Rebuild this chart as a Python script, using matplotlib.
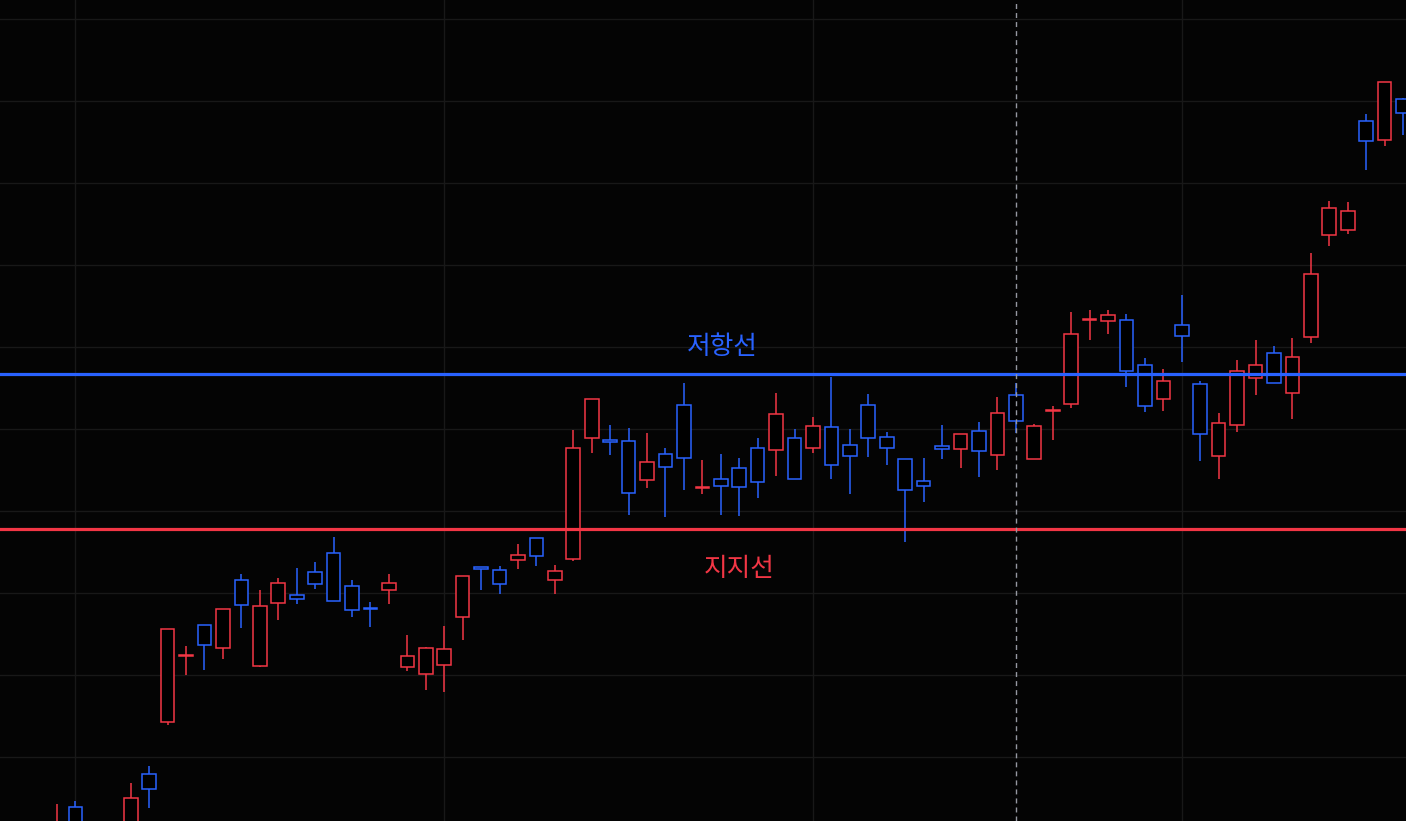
import matplotlib
matplotlib.use("Agg")
import matplotlib.pyplot as plt
from matplotlib.patches import Rectangle

plt.rcParams['font.family'] = ['Noto Sans CJK KR', 'DejaVu Sans']

# OHLC per bar (price units), bar 0 is the left-most partly visible candle
opens = [-30, 14, -40, -10, -15, 47, 99, 165.5, 196, 173,
         241, 155, 218, 226, 249, 268, 235, 213, 231.5, 154,
         147, 156, 204, 254, 251, 261, 283, 241, 262, 383,
         381, 380, 341, 367, 416, 333.5, 342, 353, 373, 371,
         383, 373, 394, 376, 416, 384, 362, 340, 375, 372,
         390, 366, 426, 362, 410.5, 417, 501.5, 500, 501, 456,
         422, 496, 437, 365, 396, 443, 468, 428, 484, 586,
         591, 700, 681, 722]
highs = [17, 20, -5, -3, 38, 55, 192, 175, 196, 212,
         247, 231, 243, 253, 259, 284, 241, 219, 247, 186,
         174, 195, 245, 254, 255, 277, 283, 256, 391, 422,
         396, 393, 388, 373, 438, 361, 367, 363, 383, 428,
         392, 404, 444, 392, 427, 389, 362, 363, 396, 387,
         399, 424, 438, 397, 415, 509, 511, 511, 507, 463,
         452, 526, 440, 408, 461, 481, 475, 483, 568, 620,
         619, 707, 739, 723]
lows = [-40, -30, -45, -45, -20, 13, 96, 146, 151, 162,
        193, 154, 201, 217, 232, 220, 204, 194, 217, 150,
        131, 129, 181, 231, 227, 252, 255, 227, 260, 368,
        366, 306, 333, 304, 331, 327, 306, 305, 323, 345,
        342, 368, 342, 327, 364, 356, 279, 319, 362, 353,
        344, 351, 388, 362, 381, 413, 481, 487, 434, 409,
        410, 459, 360, 342, 389, 426, 438, 402, 478, 575,
        587, 651, 675, 686]
closes = [-4, -20, -15, -35, 23, 32, 192, 166, 176, 212,
          216, 215, 238, 222, 237, 220, 211, 212, 238, 165,
          173, 172, 245, 252, 237, 266, 265, 250, 373, 422,
          379, 328, 359, 354, 363, 334, 335, 334, 339, 407,
          342, 395, 356, 365, 383, 373, 331, 335, 372, 387,
          370, 408, 400, 395, 411, 487, 502, 506, 450, 415,
          440, 485, 387, 398, 450, 456, 438, 464, 547, 613,
          610, 680, 739, 708]

resistance = 447.5
support = 292
cursor_bar = 52

BG = '#040404'
UP = '#F23645'
DOWN = '#2962FF'
GRID = '#181818'

fig = plt.figure(figsize=(14.06, 8.21), dpi=100)
fig.patch.set_facecolor(BG)
ax = fig.add_axes([0, 0, 1, 1])
ax.set_facecolor(BG)

# grid
for k in range(10):
    ax.axhline(64.5 + 81.9 * k, color=GRID, lw=1.0, zorder=0)
for gx in [1, 21, 41, 61]:
    ax.axvline(gx, color=GRID, lw=1.0, zorder=0)

w = 0.74
for i, (o, h, l, c) in enumerate(zip(opens, highs, lows, closes)):
    col = UP if c >= o else DOWN
    ax.vlines(i, l, h, color=col, lw=1.1, zorder=2)
    bottom = min(o, c)
    height = max(abs(c - o), 0.6)
    ax.add_patch(Rectangle((i - w / 2, bottom), w, height, facecolor='#000000',
                           edgecolor=col, lw=1.1, zorder=3))

ax.axhline(resistance, color=DOWN, lw=2.3, zorder=4)
ax.axhline(support, color=UP, lw=2.3, zorder=4)
ax.axvline(cursor_bar, color='#9598a1', lw=1.0, ls=(0, (3.6, 2.9)), zorder=5)

ax.text(36.06, resistance + 26.5, '저항선', color=DOWN, fontsize=18.5,
        ha='center', va='center', zorder=6)
ax.text(36.98, support - 39.5, '지지선', color=UP, fontsize=18.5,
        ha='center', va='center', zorder=6)

ax.set_xlim(-3.09, 73.16)
ax.set_ylim(0, 821)
ax.axis('off')

fig.savefig('out.png', dpi=100, facecolor=BG)
